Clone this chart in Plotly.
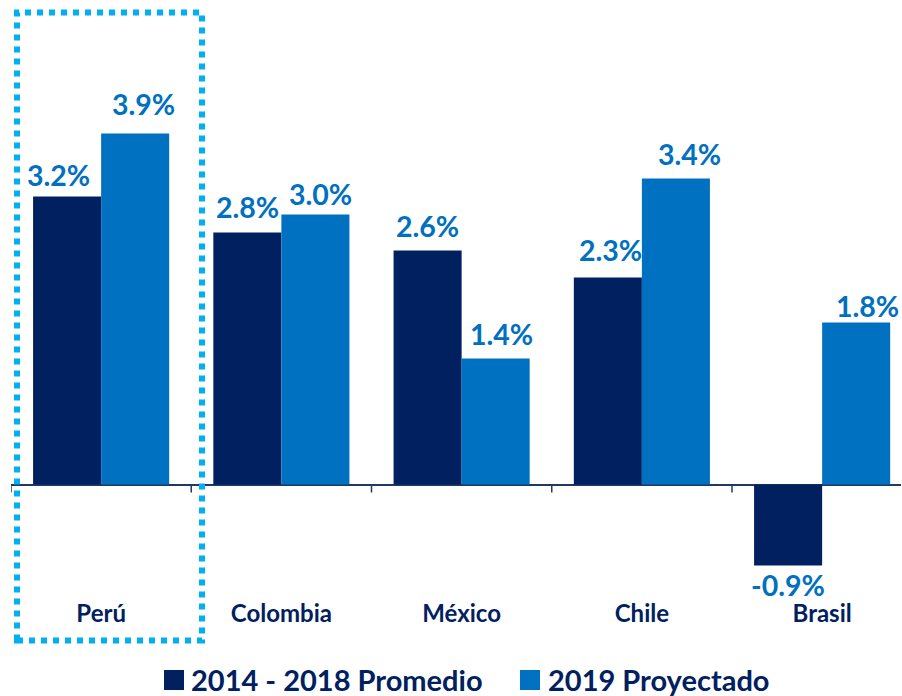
import plotly.graph_objects as go

categories = ["Perú", "Colombia", "México", "Chile", "Brasil"]
promedio_2014_2018 = [3.2, 2.8, 2.6, 2.3, -0.9]
proyectado_2019 = [3.9, 3.0, 1.4, 3.4, 1.8]
series_names = ["2014 - 2018 Promedio", "2019 Proyectado"]
series_colors = ["#002060", "#0070C0"]
label_color = "#0070C0"
text_color = "#002060"
highlight_color = "#00B0F0"

# value-label placement tweaks (pixels): horizontal nudge and gap to bar end
label_dx = [[-8.5, 0, 0, 3, 0], [8.5, 5, 6, 14, 11]]
label_gap = [[10, 14, 13, 16, 9], [18, 9, 13, 13, 5]]

W, H = 902, 696
L, R, T, B = 11, 1, 84, 99
pw = W - L - R
ph = H - T - B
cat_px = 180.25
bargap = 0.245
x_max = -0.5 + pw / cat_px
px_per_unit = 90.0
zero_px = 484.5
y_max = (zero_px - T) / px_per_unit
y_min = -((H - B) - zero_px) / px_per_unit
bar_offset = cat_px * (1 - bargap) / 4


def paper_x(px):
    return (px - L) / pw


def paper_y(py):
    return ((H - B) - py) / ph


FONT = "Lato, 'Open Sans', sans-serif"
LBL_SIZE = 28.5

fig = go.Figure()
annotations = []
all_series = [promedio_2014_2018, proyectado_2019]
for s, (vals, name, col) in enumerate(zip(all_series, series_names, series_colors)):
    fig.add_trace(go.Bar(
        x=categories, y=vals, name=name,
        marker=dict(color=col, line=dict(width=0)),
        showlegend=False,
        hoverinfo="x+y+name",
    ))
    side = -1 if s == 0 else 1
    for i, (cat, v) in enumerate(zip(categories, vals)):
        desc = 0.213 * LBL_SIZE + 1
        if v >= 0:
            yanchor, yshift = "bottom", label_gap[s][i] - desc
        else:
            yanchor, yshift = "top", -(label_gap[s][i] - ((0.987 - 0.72) * LBL_SIZE + 1))
        annotations.append(dict(
            x=cat, y=v, xref="x", yref="y", showarrow=False,
            xanchor="center", yanchor=yanchor,
            xshift=side * bar_offset + label_dx[s][i], yshift=yshift,
            text=f"<b>{v:.1f}%</b>",
            font=dict(family=FONT, size=LBL_SIZE, color=label_color),
        ))

shapes = []
# category boundary ticks below the zero line
for i in range(len(categories)):
    shapes.append(dict(type="line", xref="x", yref="y", x0=i - 0.5, x1=i - 0.5,
                       y0=0, y1=-8 / px_per_unit, line=dict(color="#203864", width=1.5)))

# dotted highlight box around Perú
shapes.append(dict(type="rect", xref="paper", yref="paper",
                   x0=paper_x(17), x1=paper_x(202), y0=paper_y(640.5), y1=paper_y(12.5),
                   line=dict(color=highlight_color, width=6, dash="6px,6px"),
                   fillcolor="rgba(0,0,0,0)", layer="above"))

sq_x = [164, 520]
txt_x = [189, 546]
for name, col, sx, tx in zip(series_names, series_colors, sq_x, txt_x):
    shapes.append(dict(type="rect", xref="paper", yref="paper",
                       x0=paper_x(sx), x1=paper_x(sx + 20),
                       y0=paper_y(690), y1=paper_y(670),
                       fillcolor=col, line=dict(width=0)))
    annotations.append(dict(xref="paper", yref="paper", x=paper_x(tx), y=paper_y(679),
                            xanchor="left", yanchor="middle", showarrow=False,
                            text=f"<b>{name}</b>",
                            font=dict(family=FONT, size=29, color=text_color)))

fig.update_layout(
    width=W, height=H,
    margin=dict(l=L, r=R, t=T, b=B, pad=0),
    paper_bgcolor="white", plot_bgcolor="white",
    barmode="group", bargap=bargap, bargroupgap=0,
    shapes=shapes, annotations=annotations,
    xaxis=dict(range=[-0.5, x_max], showgrid=False, showline=False, ticks="",
               tickfont=dict(family=FONT, size=24, color=text_color, weight="bold"),
               zeroline=False),
    yaxis=dict(range=[y_min, y_max], showgrid=False, showticklabels=False, ticks="",
               showline=False, zeroline=True, zerolinecolor="#203864", zerolinewidth=1.5),
)

fig.write_html("out.html", config={"displayModeBar": False},
               post_script="document.body.style.margin='0';document.body.style.overflow='hidden';")
